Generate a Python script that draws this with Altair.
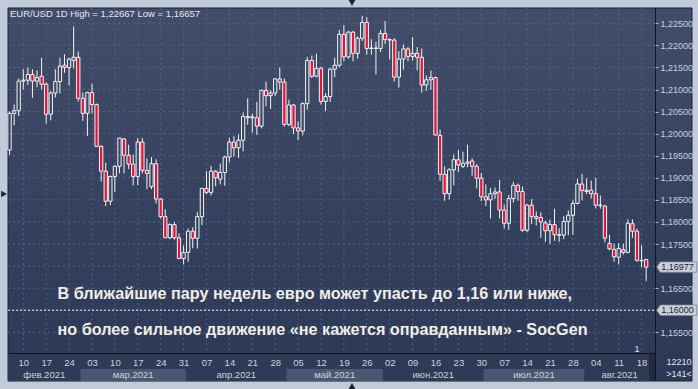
import json
import altair as alt
import pandas as pd

# ---------------- data (daily EUR/USD candles, 5 Feb 2021 .. 19 Aug 2021) ----------------
opens = [1.1963, 1.2046, 1.2052, 1.2119, 1.2121, 1.2134, 1.2119, 1.2130, 1.2112, 1.2044,
         1.2092, 1.2118, 1.2155, 1.2150, 1.2166, 1.2173, 1.2080, 1.2046, 1.2093, 1.2066,
         1.1971, 1.1915, 1.1847, 1.1903, 1.1926, 1.1988, 1.1951, 1.1931, 1.1903, 1.1981,
         1.1917, 1.1880, 1.1932, 1.1852, 1.1812, 1.1764, 1.1794, 1.1764, 1.1717, 1.1731,
         1.1779, 1.1763, 1.1812, 1.1876, 1.1867, 1.1915, 1.1897, 1.1912, 1.1947, 1.1981,
         1.1968, 1.1985, 1.2039, 1.2036, 1.2036, 1.2017, 1.2098, 1.2086, 1.2092, 1.2124,
         1.2117, 1.2021, 1.2065, 1.2013, 1.2006, 1.2068, 1.2166, 1.2130, 1.2148, 1.2073,
         1.2084, 1.2146, 1.2155, 1.2225, 1.2174, 1.2230, 1.2182, 1.2216, 1.2252, 1.2193,
         1.2194, 1.2193, 1.2227, 1.2213, 1.2212, 1.2128, 1.2169, 1.2192, 1.2175, 1.2182,
         1.2173, 1.2110, 1.2122, 1.2127, 1.1996, 1.1908, 1.1864, 1.1918, 1.1941, 1.1926,
         1.1933, 1.1938, 1.1926, 1.1899, 1.1857, 1.1850, 1.1864, 1.1868, 1.1827, 1.1797,
         1.1853, 1.1883, 1.1869, 1.1781, 1.1838, 1.1812, 1.1810, 1.1798, 1.1780, 1.1794,
         1.1771, 1.1770, 1.1801, 1.1815, 1.1842, 1.1886, 1.1869, 1.1872, 1.1864, 1.1838,
         1.1836, 1.1751, 1.1738, 1.1720, 1.1737, 1.1731, 1.1796, 1.1779, 1.1713, 1.1715]
highs = [1.2050, 1.2066, 1.2125, 1.2146, 1.2150, 1.2146, 1.2143, 1.2172, 1.2116, 1.2097,
         1.2146, 1.2172, 1.2180, 1.2172, 1.2243, 1.2186, 1.2093, 1.2095, 1.2113, 1.2068,
         1.1974, 1.1934, 1.1905, 1.1928, 1.1990, 1.1990, 1.1975, 1.1953, 1.1990, 1.1990,
         1.1944, 1.1947, 1.1942, 1.1854, 1.1829, 1.1797, 1.1800, 1.1774, 1.1747, 1.1785,
         1.1788, 1.1823, 1.1877, 1.1915, 1.1927, 1.1917, 1.1932, 1.1950, 1.1991, 1.1994,
         1.1998, 1.2048, 1.2080, 1.2045, 1.2072, 1.2100, 1.2118, 1.2098, 1.2126, 1.2150,
         1.2125, 1.2077, 1.2067, 1.2028, 1.2071, 1.2174, 1.2177, 1.2181, 1.2152, 1.2092,
         1.2149, 1.2172, 1.2235, 1.2246, 1.2233, 1.2233, 1.2220, 1.2267, 1.2264, 1.2214,
         1.2208, 1.2235, 1.2255, 1.2216, 1.2216, 1.2187, 1.2202, 1.2196, 1.2219, 1.2196,
         1.2193, 1.2132, 1.2143, 1.2129, 1.2009, 1.1926, 1.1922, 1.1953, 1.1963, 1.1959,
         1.1975, 1.1944, 1.1931, 1.1911, 1.1885, 1.1877, 1.1878, 1.1895, 1.1839, 1.1861,
         1.1891, 1.1887, 1.1880, 1.1841, 1.1852, 1.1824, 1.1822, 1.1803, 1.1805, 1.1830,
         1.1786, 1.1813, 1.1826, 1.1849, 1.1898, 1.1909, 1.1899, 1.1894, 1.1900, 1.1860,
         1.1839, 1.1771, 1.1751, 1.1752, 1.1751, 1.1806, 1.1806, 1.1785, 1.1747, 1.1716]
lows = [1.1952, 1.2019, 1.2040, 1.2100, 1.2110, 1.2081, 1.2105, 1.2100, 1.2023, 1.2030,
        1.2082, 1.2091, 1.2138, 1.2109, 1.2148, 1.2073, 1.2029, 1.1995, 1.2046, 1.1970,
        1.1892, 1.1836, 1.1838, 1.1868, 1.1910, 1.1910, 1.1920, 1.1883, 1.1883, 1.1910,
        1.1874, 1.1874, 1.1842, 1.1808, 1.1764, 1.1761, 1.1760, 1.1716, 1.1704, 1.1710,
        1.1740, 1.1740, 1.1793, 1.1863, 1.1860, 1.1881, 1.1885, 1.1882, 1.1935, 1.1948,
        1.1945, 1.1960, 1.2020, 1.2002, 1.1997, 1.2012, 1.2062, 1.2056, 1.2085, 1.2100,
        1.2016, 1.2017, 1.1999, 1.1985, 1.1996, 1.2054, 1.2126, 1.2128, 1.2066, 1.2051,
        1.2072, 1.2128, 1.2150, 1.2164, 1.2170, 1.2164, 1.2170, 1.2210, 1.2179, 1.2179,
        1.2134, 1.2185, 1.2203, 1.2168, 1.2118, 1.2104, 1.2145, 1.2164, 1.2165, 1.2143,
        1.2093, 1.2097, 1.2099, 1.1996, 1.1893, 1.1848, 1.1851, 1.1883, 1.1913, 1.1922,
        1.1924, 1.1905, 1.1876, 1.1847, 1.1836, 1.1808, 1.1852, 1.1808, 1.1785, 1.1782,
        1.1844, 1.1848, 1.1778, 1.1777, 1.1795, 1.1792, 1.1764, 1.1755, 1.1750, 1.1757,
        1.1755, 1.1761, 1.1770, 1.1771, 1.1840, 1.1849, 1.1863, 1.1853, 1.1831, 1.1830,
        1.1754, 1.1736, 1.1710, 1.1704, 1.1726, 1.1729, 1.1764, 1.1710, 1.1697, 1.16657]
closes = [1.2046, 1.2052, 1.2119, 1.2121, 1.2134, 1.2119, 1.2127, 1.2112, 1.2044, 1.2092,
          1.2118, 1.2153, 1.2150, 1.2169, 1.2173, 1.2080, 1.2046, 1.2093, 1.2066, 1.1971,
          1.1915, 1.1847, 1.1903, 1.1926, 1.1990, 1.1951, 1.1931, 1.1903, 1.1981, 1.1917,
          1.1910, 1.1932, 1.1852, 1.1812, 1.1764, 1.1794, 1.1764, 1.1717, 1.1731, 1.1779,
          1.1763, 1.1812, 1.1876, 1.1867, 1.1915, 1.1900, 1.1912, 1.1947, 1.1981, 1.1968,
          1.1985, 1.2039, 1.2036, 1.2038, 1.2017, 1.2098, 1.2086, 1.2092, 1.2124, 1.2117,
          1.2021, 1.2065, 1.2013, 1.2006, 1.2068, 1.2166, 1.2130, 1.2148, 1.2073, 1.2084,
          1.2146, 1.2155, 1.2225, 1.2174, 1.2230, 1.2182, 1.2216, 1.2252, 1.2193, 1.2194,
          1.2193, 1.2227, 1.2213, 1.2212, 1.2128, 1.2169, 1.2192, 1.2175, 1.2182, 1.2173,
          1.2110, 1.2122, 1.2127, 1.1997, 1.1908, 1.1864, 1.1918, 1.1941, 1.1929, 1.1933,
          1.1936, 1.1926, 1.1899, 1.1857, 1.1850, 1.1864, 1.1868, 1.1827, 1.1797, 1.1853,
          1.1883, 1.1869, 1.1781, 1.1838, 1.1812, 1.1808, 1.1800, 1.1780, 1.1794, 1.1771,
          1.1770, 1.1801, 1.1815, 1.1842, 1.1886, 1.1871, 1.1872, 1.1864, 1.1838, 1.1837,
          1.1763, 1.1739, 1.1721, 1.1740, 1.1731, 1.1797, 1.1779, 1.1713, 1.1712, 1.16977]

day_labels = ["10", "17", "24", "03", "10", "17", "24", "31", "07", "14", "21", "28", "05", "12",
              "19", "26", "02", "09", "16", "23", "30", "07", "14", "21", "28", "04", "11", "18"]
first_label_candle = 3          # Wednesday 10 Feb is the 4th candle
months = ["фев.2021", "мар.2021", "апр.2021", "май.2021", "июн.2021", "июл.2021", "авг.2021"]
month_first = [-4.5, 15.5, 38.5, 60.5, 81.5, 103.5, 125.5]
month_last = [15.5, 38.5, 60.5, 81.5, 103.5, 125.5, 147.5]
month_shaded = [False, True, False, True, False, True, False]

price_ticks = [1.155, 1.165, 1.175, 1.18, 1.185, 1.19, 1.195, 1.2, 1.205,
               1.21, 1.215, 1.22, 1.225]
grid_prices = [1.155, 1.16, 1.165, 1.17, 1.175, 1.18, 1.185, 1.19, 1.195, 1.2,
               1.205, 1.21, 1.215, 1.22, 1.225]
level_price = 1.16
last_price = 1.16977

title_text = "EUR/USD 1D  High = 1,22667 Low = 1,16657"
headline1 = "В ближайшие пару недель евро может упасть до 1,16 или ниже,"
headline2 = "но более сильное движение «не кажется оправданным» - SocGen"
corner_texts = ["12210", ">141<"]

# ---------------- geometry / style ----------------
W, H = 647, 345
X0, X1 = -0.3384, 140.93
Y0, Y1 = 1.150311, 1.228466
FONT = "Liberation Sans"
RED = "#e2163d"
WHITE = "#f4f4f4"
LABEL = "#cad2df"
GRIDC = "#56627f"

xs = alt.Scale(domain=[X0, X1], nice=False, zero=False)
ys = alt.Scale(domain=[Y0, Y1], nice=False, zero=False)

label_idx = [first_label_candle + 5 * k for k in range(len(day_labels))]
x_axis = alt.Axis(values=label_idx, title=None, grid=False, ticks=False, domain=False,
                  labelExpr=f"{json.dumps(day_labels)}[round((datum.value - {first_label_candle}) / 5)]",
                  labelColor=LABEL, labelFont=FONT, labelFontSize=9.5, labelPadding=4,
                  labelOverlap=False, labelFlush=False, zindex=2)
y_axis = alt.Axis(orient="right", values=price_ticks, title=None, grid=False, domain=False,
                  ticks=True, tickSize=3, tickColor="#aeb8c8",
                  labelExpr="replace(format(datum.value, '.5f'), '.', ',')",
                  labelColor=LABEL, labelFont=FONT, labelFontSize=9, labelPadding=2,
                  labelOverlap=False, labelFlush=False, zindex=2)

def X(field):
    return alt.X(field, type="quantitative", scale=xs, axis=x_axis)

def Y(field):
    return alt.Y(field, type="quantitative", scale=ys, axis=y_axis)

# ---------------- tables ----------------
n = len(opens)
candles = pd.DataFrame({"i": list(range(n)), "o": opens, "h": highs, "l": lows, "c": closes})
candles["top"] = candles[["o", "c"]].max(axis=1)
candles["bot"] = candles[["o", "c"]].min(axis=1)
candles["xa"] = candles["i"] - 0.36
candles["xb"] = candles["i"] + 0.36
candles["dir"] = ["down" if c < o else "up" for o, c in zip(opens, closes)]

vis_first = [max(a, X0) for a in month_first]
vis_last = [min(b, X1) for b in month_last]
month_df = pd.DataFrame({"m": months, "a": vis_first, "b": vis_last, "shade": month_shaded})
month_df["mid"] = (month_df["a"] + month_df["b"]) / 2

one = pd.DataFrame({"k": [0]})
hgrid = pd.DataFrame({"p": grid_prices})
vgrid = pd.DataFrame({"i": label_idx})
tags = pd.DataFrame({"p": [level_price, last_price]})
tags["lab"] = [f"{v:.5f}".replace(".", ",") for v in tags["p"]]

# ---------------- layers ----------------
grad = {"gradient": "linear", "x1": 0, "y1": 0, "x2": 0, "y2": 1,
        "stops": [{"offset": 0, "color": "#414d69"}, {"offset": 1, "color": "#2b3856"}]}

panel = alt.Chart(one).mark_rect(fill=grad, stroke="#1a2133", strokeWidth=1).encode(
    x=alt.value(0), x2=alt.value(684), y=alt.value(0), y2=alt.value(373))

bottom_panel = alt.Chart(one).mark_rect(fill="#2e3a56").encode(
    x=alt.value(0), x2=alt.value(647), y=alt.value(346), y2=alt.value(373))

bands = alt.Chart(month_df).transform_filter("datum.shade").mark_rect(fill="#4a5772").encode(
    x=X("a"), x2="b", y=alt.value(361), y2=alt.value(373))

scroll = alt.Chart(one).mark_rect(fill="#202a40").encode(
    x=alt.value(641), x2=alt.value(647), y=alt.value(346), y2=alt.value(373))

month_text = alt.Chart(month_df).mark_text(font=FONT, fontSize=9.5, color=LABEL,
                                           baseline="middle").encode(
    x=X("mid"), y=alt.value(367), text="m:N")

hlines = alt.Chart(hgrid).mark_rule(color=GRIDC, strokeDash=[2, 3], strokeWidth=1).encode(
    y=Y("p"), x=alt.value(0), x2=alt.value(W))

vlines = alt.Chart(vgrid).mark_rule(color=GRIDC, strokeDash=[2, 3], strokeWidth=1).encode(
    x=X("i"), y=alt.value(0), y2=alt.value(H))

level = alt.Chart(pd.DataFrame({"p": [level_price]})).mark_rule(
    color="#f0f0f0", strokeDash=[2, 2], strokeWidth=1).encode(
    y=Y("p"), x=alt.value(0), x2=alt.value(W))

wick_up = alt.Chart(candles).mark_rule(color=WHITE, strokeWidth=1).encode(
    x=X("i"), y=Y("top"), y2="h")
wick_dn = alt.Chart(candles).mark_rule(color=WHITE, strokeWidth=1).encode(
    x=X("i"), y=Y("l"), y2="bot")

bodies = alt.Chart(candles).mark_rect(stroke=WHITE, strokeWidth=1).encode(
    x=X("xa"), x2="xb", y=Y("bot"), y2="top",
    fill=alt.Fill("dir:N", scale=alt.Scale(domain=["down", "up"], range=[RED, "transparent"]),
                  legend=None))

head1 = alt.Chart(pd.DataFrame({"t": [headline1]})).mark_text(
    font=FONT, fontSize=16.2, fontWeight="bold", color="#f1ede4", align="left",
    baseline="middle").encode(x=alt.value(49.5), y=alt.value(285.5), text="t:N")
head2 = alt.Chart(pd.DataFrame({"t": [headline2]})).mark_text(
    font=FONT, fontSize=16.2, fontWeight="bold", color="#f1ede4", align="left",
    baseline="middle").encode(x=alt.value(49.5), y=alt.value(322), text="t:N")

title = alt.Chart(pd.DataFrame({"t": [title_text]})).mark_text(
    font=FONT, fontSize=9.5, color="#e4e9f1", align="left", baseline="middle").encode(
    x=alt.value(2), y=alt.value(6), text="t:N")

TAG = "M -1 0 L -0.82 -0.26 L 1 -0.26 L 1 0.26 L -0.82 0.26 Z"
tag_shape = alt.Chart(tags).mark_point(shape=TAG, filled=True, fill="#c9d0da", stroke="#7c8699",
                                       strokeWidth=0.8, size=1600, opacity=1).encode(
    x=alt.value(668.7), y=Y("p"))
tag_text = alt.Chart(tags).mark_text(font=FONT, fontSize=9, color="#1d2230",
                                     baseline="middle").encode(
    x=alt.value(669.5), y=Y("p"), text="lab:N")

hsep = alt.Chart(one).mark_rule(color="#0f1420", strokeWidth=1).encode(
    x=alt.value(0), x2=alt.value(647), y=alt.value(345.5))
vsep = alt.Chart(one).mark_rule(color="#0f1420", strokeWidth=1).encode(
    x=alt.value(647.5), y=alt.value(0), y2=alt.value(373))

corner = alt.Chart(pd.DataFrame({"t": corner_texts, "yy": [354, 366]})).mark_text(
    font=FONT, fontSize=9, color="#e2e7ef", baseline="middle").encode(
    x=alt.value(671), y=alt.Y("yy:Q", scale=None), text="t:N")

one_mark = alt.Chart(pd.DataFrame({"t": ["1"]})).mark_text(
    font=FONT, fontSize=9, color="#dfe4ec", baseline="middle").encode(
    x=alt.value(629), y=alt.value(341), text="t:N")

arrows = alt.Chart(pd.DataFrame({"s": ["triangle-down", "triangle-right", "triangle-up"],
                                 "px": [344, -4, 344], "py": [-5, 186, 378]})).mark_point(
    filled=True, size=45, color="#1c2334", opacity=1).encode(
    x=alt.X("px:Q", scale=None), y=alt.Y("py:Q", scale=None),
    shape=alt.Shape("s:N", scale=None))

chart = alt.layer(
    panel, bottom_panel, bands, scroll, month_text, hlines, vlines, level,
    wick_up, wick_dn, bodies, head1, head2, title, tag_shape, tag_text,
    hsep, vsep, corner, one_mark, arrows
).properties(
    width=W, height=H, background="#c1cbd9",
    padding={"left": 8, "top": 8, "right": 43, "bottom": 36},
    autosize=alt.AutoSizeParams(type="none")
).configure_view(stroke=None)

chart.save("out.html", embed_options={"renderer": "svg", "actions": False})
